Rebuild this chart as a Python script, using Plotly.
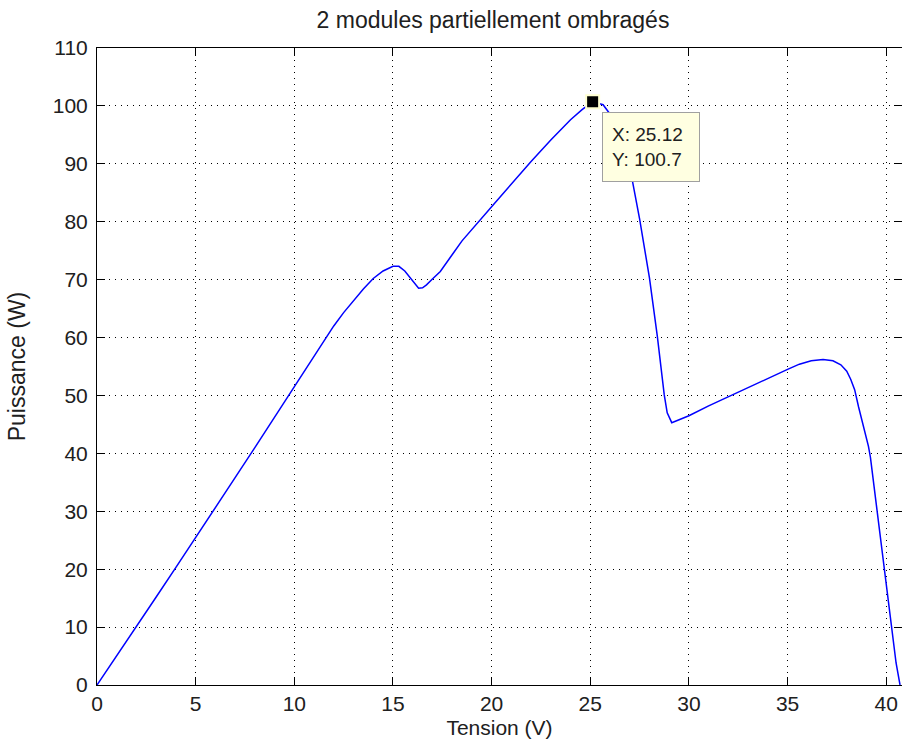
# P-V curve, 2 partially shaded modules (MATLAB style figure)
import plotly.graph_objects as go

# ----------------------------------------------------------------------------
# DATA
tension = [0, 1, 2, 3, 4, 5, 6, 7, 8, 9, 10, 11, 11.5, 12, 12.5, 13, 13.5, 14,
           14.5, 15, 15.3, 15.6, 15.9, 16.1, 16.3, 16.5, 16.7, 17, 17.4, 18,
           18.5, 20, 21, 22, 23, 24, 24.6, 25.12, 25.65, 26.0, 26.3, 26.6, 27.0,
           27.3, 27.5, 28.0, 28.4, 28.75, 28.9, 29.13, 30, 31, 32, 33, 34, 35,
           35.6, 36.2, 36.8, 37.3, 37.7, 38.0, 38.2, 38.4, 38.6, 38.8, 39.0,
           39.1, 39.2, 39.3, 39.4, 39.5, 39.7, 39.85, 40.0, 40.2, 40.35, 40.5,
           40.7]
puissance = [0, 5, 10.1, 15.2, 20.3, 25.4, 30.6, 35.8, 41, 46.2, 51.4, 56.6,
             59.3, 62, 64.3, 66.4, 68.4, 70.2, 71.5, 72.3, 72.3, 71.5, 70.2,
             69.2, 68.5, 68.6, 69.1, 70.1, 71.4, 74.3, 76.7, 82.6, 86.5, 90.4,
             94.1, 97.6, 99.4, 100.7, 100.2, 98.6, 96.8, 94.2, 89.5, 84.3, 80.5,
             70.3, 60.2, 50.1, 47, 45.3, 46.5, 48.2, 49.8, 51.3, 52.9, 54.5,
             55.4, 56.0, 56.2, 56.0, 55.3, 54.2, 52.8, 51, 48, 45.2, 42.8,
             41.2, 39.3, 36.6, 33.6, 30.5, 25, 21, 17, 11.8, 7.8, 3.8, 0]

# data tip
tip_x = 25.12
tip_y = 100.7

title = "2 modules partiellement ombragés"
font_name = "Liberation Sans, Arial, sans-serif"

fig_w = 902
fig_h = 756

# ----------------------------------------------------------------------------
# GRAPH
fig = go.Figure()

fig.add_trace(go.Scatter(x=tension, y=puissance, mode='lines',
                         line=dict(color='#0000FF', width=1.5), showlegend=False))

# data tip marker
fig.add_trace(go.Scatter(x=[tip_x], y=[tip_y], mode='markers', showlegend=False,
                         marker=dict(symbol='square', size=13, color='black',
                                     line=dict(color='#FFFFD0', width=2))))

# data tip box
fig.add_annotation(x=tip_x, y=tip_y, xref='x', yref='y', showarrow=False,
                   text="X: %.2f<br>Y: %.1f" % (tip_x, tip_y),
                   xanchor='left', yanchor='top', xshift=9, yshift=-10,
                   align='left', width=78, height=50, borderpad=9,
                   bgcolor='#FFFFE1', bordercolor='#A0A0A0', borderwidth=1,
                   font=dict(family=font_name, size=19, color='#202020'))

axis_common = dict(showline=True, linecolor='black', linewidth=1, mirror='ticks',
                   ticks='inside', ticklen=8, tickcolor='black', automargin=False,
                   showgrid=True, gridcolor='#000000', griddash='1px,5px', gridwidth=1,
                   zeroline=False, tickfont=dict(family=font_name, size=21, color='#202020'))

fig.update_xaxes(range=[0, 40.8], dtick=5, tick0=0, **axis_common,
                 title=dict(text="Tension (V)", standoff=6,
                            font=dict(family=font_name, size=21, color='#202020')))
fig.update_yaxes(range=[0, 110], dtick=10, tick0=0, ticklabelstandoff=4, **axis_common,
                 title=dict(text="Puissance (W)", standoff=20,
                            font=dict(family=font_name, size=23, color='#202020')))

fig.update_layout(width=fig_w, height=fig_h,
                  margin=dict(l=97, r=0, t=48, b=71, autoexpand=False),
                  plot_bgcolor='white', paper_bgcolor='white',
                  title=dict(text=title, x=493 / fig_w,
                             xanchor='center', xref='container',
                             y=1 - 20 / fig_h,
                             yanchor='middle', yref='container',
                             font=dict(family=font_name, size=23, color='#202020')))

# remove the default page margin so the figure fills the window
page_js = "document.body.style.margin='0';document.body.style.overflow='hidden';"

fig.write_html("out.html", default_width='%dpx' % fig_w, default_height='%dpx' % fig_h,
               post_script=page_js, config={'displayModeBar': False})
